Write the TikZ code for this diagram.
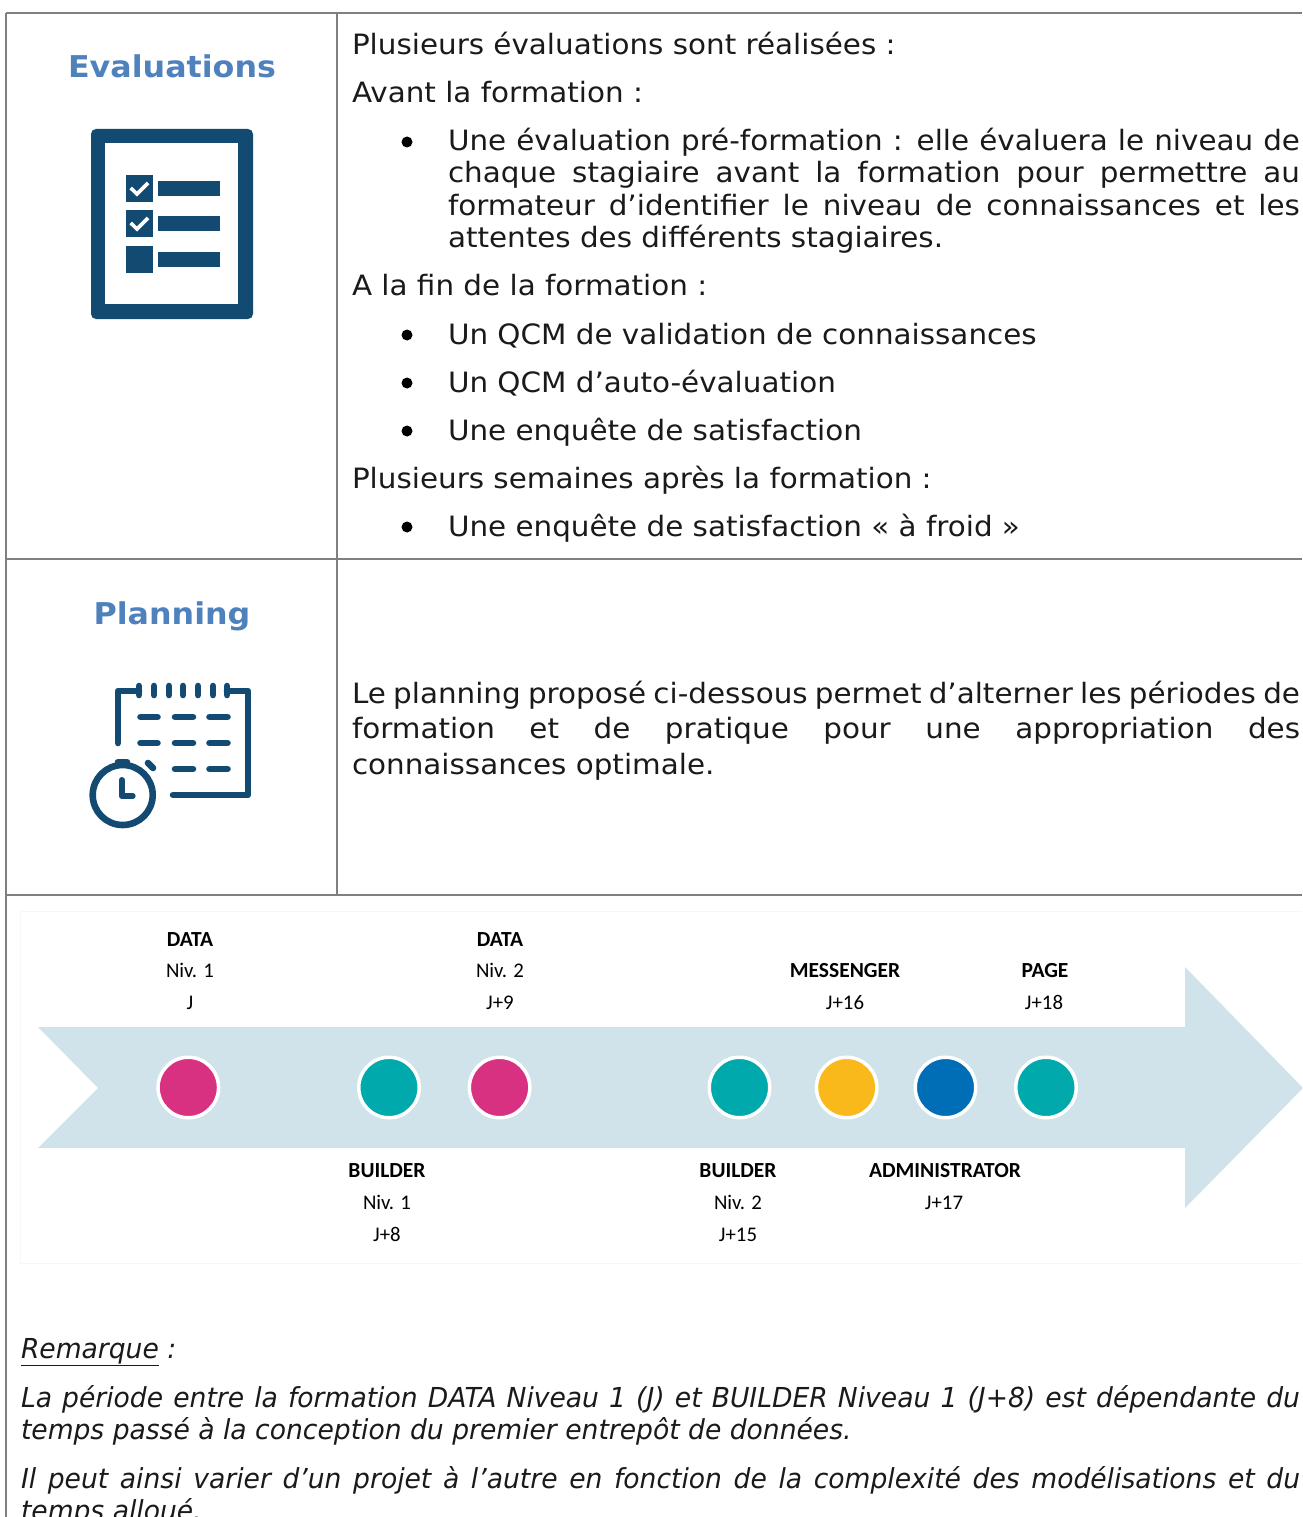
\documentclass[tikz,border=0pt]{standalone}
\usepackage{fontspec}
\setmainfont[FakeStretch=1.05]{DejaVu Sans}
\newfontfamily\hdfnt[FakeStretch=1.057]{DejaVu Sans}
\newfontfamily\itfnt[FakeStretch=0.966]{DejaVu Sans}
\newfontfamily\calfnt{Carlito}
\definecolor{ruleg}{HTML}{808080}
\definecolor{head}{HTML}{4F81BD}
\definecolor{ico}{HTML}{134A72}
\definecolor{band}{HTML}{D0E2EA}
\definecolor{pinkc}{HTML}{D93182}
\definecolor{tealc}{HTML}{00A9AC}
\definecolor{yelc}{HTML}{F9B91B}
\definecolor{bluec}{HTML}{006EB7}
\definecolor{txt}{HTML}{1A1A1A}
\newcommand{\bodyfs}{\fontsize{28}{32}\selectfont}
\newcommand{\italfs}{\fontsize{27.5}{32}\selectfont}
\newcommand{\jfull}[1]{\makebox[948pt][s]{#1}}
\tikzset{
  x=1pt,y=-1pt,
  body/.style={anchor=base west,inner sep=0pt,outer sep=0pt,text=txt,font=\bodyfs},
  ital/.style={anchor=base west,inner sep=0pt,outer sep=0pt,text=txt,font=\italfs\itfnt\itshape},
  headg/.style={anchor=base,inner sep=0pt,text=head,font=\fontsize{30}{32}\selectfont\hdfnt\bfseries},
  tline/.style={draw=ruleg,line width=1.7pt},
  bdot/.style={circle,fill=black,inner sep=0pt,minimum size=11pt},
  lab/.style={anchor=base,inner sep=0pt,text=black,font=\calfnt\fontsize{20.8}{22}\selectfont},
  labb/.style={lab,font=\calfnt\fontsize{21.5}{22}\selectfont\bfseries},
  stone/.style={draw=white,line width=3.5pt,inner sep=0pt,minimum size=60.5pt,circle},
  icoline/.style={draw=ico,line width=6.6pt,line cap=round,line join=round},
}
\begin{document}
\begin{tikzpicture}
\useasboundingbox (0,0) rectangle (1302,1517);
\clip (0,0) rectangle (1302,1517);
\fill[white] (0,0) rectangle (1302,1517);
% table rules
\draw[tline] (6,13) -- (1302,13);
\draw[tline] (6,559) -- (1302,559);
\draw[tline] (6,895) -- (1302,895);
\draw[tline] (6,13) -- (6,1517);
\draw[tline] (337,13) -- (337,895);
% headings
\node[headg] (hEval) at (172,78) {Evaluations};
\node[headg] (hPlan) at (172,624) {Planning};
% checklist icon
\fill[ico,rounded corners=5pt] (91,129) rectangle (253,319);
\fill[white] (105,143) rectangle (238,304);
\fill[ico] (126,175) rectangle (153,202);
\fill[ico] (126,210) rectangle (153,237);
\fill[ico] (126,246) rectangle (153,273);
\fill[ico] (158,181) rectangle (220,196);
\fill[ico] (158,216) rectangle (220,231);
\fill[ico] (158,252) rectangle (220,267);
\draw[white,line width=3.6pt] (130.7,188) -- (137,194) -- (148,183);
\draw[white,line width=3.6pt] (130.7,223) -- (137,229) -- (148,218);
% planning icon
\draw[icoline] (139,691) -- (118,691) -- (118,743);
\foreach \xx in {139,154,169,183,198,213,227} {\draw[icoline] (\xx,686) -- (\xx,695);}
\draw[icoline] (227,691) -- (248,691) -- (248,795) -- (173,795);
\foreach \yy in {717,743} {
  \draw[icoline] (140.5,\yy) -- (157.5,\yy);
  \draw[icoline] (175,\yy) -- (193,\yy);
  \draw[icoline] (209.5,\yy) -- (227.5,\yy);
}
\draw[icoline] (175,769) -- (193,769);
\draw[icoline] (209.5,769) -- (227.5,769);
\draw[icoline] (122.7,795) circle (30);
\draw[icoline] (118,762) -- (127,762);
\draw[icoline] (148,763) -- (153,768);
\draw[icoline,line width=6pt] (121.7,780) -- (121.7,796) -- (132.7,796);
% body text column
\node[body] (t1) at (352,55) {Plusieurs évaluations sont réalisées :};
\node[body] (t2) at (352,103) {Avant la formation :};
\node[bdot] (b1) at (407,142) {};
\node[body] (t3) at (448,151) {\makebox[852pt][s]{Une évaluation pré-formation : elle évaluera le niveau de}};
\node[body] (t4) at (448,183) {\makebox[852pt][s]{chaque stagiaire avant la formation pour permettre au}};
\node[body] (t5) at (448,215) {\makebox[852pt][s]{formateur d’identifier le niveau de connaissances et les}};
\node[body] (t6) at (448,247) {attentes des différents stagiaires.};
\node[body] (t7) at (352,295) {A la fin de la formation :};
\node[bdot] (b2) at (407,335) {};
\node[body] (t8) at (448,344) {Un QCM de validation de connaissances};
\node[bdot] (b3) at (407,383) {};
\node[body] (t9) at (448,392) {Un QCM d’auto-évaluation};
\node[bdot] (b4) at (407,431) {};
\node[body] (t10) at (448,440) {Une enquête de satisfaction};
\node[body] (t11) at (352,488) {Plusieurs semaines après la formation :};
\node[bdot] (b5) at (407,527) {};
\node[body] (t12) at (448,536) {Une enquête de satisfaction « à froid »};
\node[body] (t13) at (352,703) {\jfull{Le planning proposé ci-dessous permet d’alterner les périodes de}};
\node[body] (t14) at (352,738) {\jfull{formation et de pratique pour une appropriation des}};
\node[body] (t15) at (352,774) {connaissances optimale.};
% timeline frame and arrow
\draw[draw=black!3,line width=0.8pt] (20,911) -- (1302,911);
\draw[draw=black!3,line width=0.8pt] (20,911) -- (20,1263) -- (1302,1263);
\fill[band] (38,1027) -- (1185,1027) -- (1185,967) -- (1303,1088) -- (1185,1208) -- (1185,1148) -- (38,1148) -- (98,1088) -- cycle;
\node[stone,fill=pinkc] (c1) at (188.3,1087.5) {};
\node[stone,fill=tealc] (c2) at (389,1087.5) {};
\node[stone,fill=pinkc] (c3) at (499.6,1087.5) {};
\node[stone,fill=tealc] (c4) at (739.5,1087.5) {};
\node[stone,fill=yelc] (c5) at (846.7,1087.5) {};
\node[stone,fill=bluec] (c6) at (945.5,1087.5) {};
\node[stone,fill=tealc] (c7) at (1046,1087.5) {};
% timeline labels
\node[labb] (l1a) at (190,946) {DATA};
\node[lab] (l1b) at (190,977) {Niv. 1};
\node[lab] (l1c) at (190,1009) {J};
\node[labb] (l3a) at (500,946) {DATA};
\node[lab] (l3b) at (500,977) {Niv. 2};
\node[lab] (l3c) at (500,1009) {J+9};
\node[labb] (l5a) at (845,977) {MESSENGER};
\node[lab] (l5b) at (845,1009) {J+16};
\node[labb] (l7a) at (1045,977) {PAGE};
\node[lab] (l7b) at (1044,1009) {J+18};
\node[labb] (l2a) at (387,1177) {BUILDER};
\node[lab] (l2b) at (387,1209) {Niv. 1};
\node[lab] (l2c) at (387,1241) {J+8};
\node[labb] (l4a) at (738,1177) {BUILDER};
\node[lab] (l4b) at (738,1209) {Niv. 2};
\node[lab] (l4c) at (738,1241) {J+15};
\node[labb] (l6a) at (945,1177) {ADMINISTRATOR};
\node[lab] (l6b) at (944,1209) {J+17};
% remark
\node[ital] (r1) at (21,1358) {\underline{Remarque} :};
\node[ital] (r2) at (21,1407) {\makebox[1279pt][s]{La période entre la formation DATA Niveau 1 (J) et BUILDER Niveau 1 (J+8) est dépendante du}};
\node[ital] (r3) at (21,1439) {temps passé à la conception du premier entrepôt de données.};
\node[ital] (r4) at (21,1488) {\makebox[1279pt][s]{Il peut ainsi varier d’un projet à l’autre en fonction de la complexité des modélisations et du}};
\node[ital] (r5) at (21,1520) {temps alloué.};
\end{tikzpicture}
\end{document}
